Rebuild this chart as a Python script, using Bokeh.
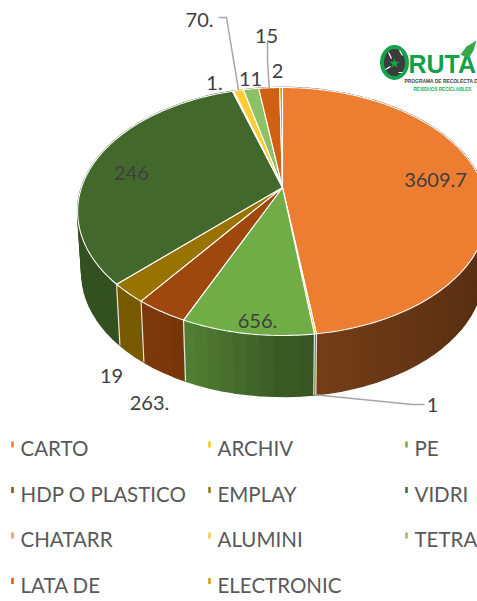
import numpy as np
from bokeh.plotting import figure
from bokeh.models import Range1d
from bokeh.core.properties import value
from bokeh.embed import file_html
from bokeh.resources import INLINE

categories = ["CARTO", "ARCHIV", "PE", "HDP O PLASTICO", "EMPLAY", "VIDRI",
              "CHATARR", "ALUMINI", "TETRA", "LATA DE", "ELECTRONIC"]
values = [3609.7, 10, 656, 263, 190, 2460, 10, 70, 110, 150, 20]
point_labels = ["3609.7", "1", "656.", "263.", "19", "246", "1.", "70.", "11", "15", "2"]
colors = ["#ED7D31", "#FFC000", "#70AD47", "#9E480E", "#997300", "#43682B",
          "#F1975A", "#FFCD33", "#8CC168", "#D26012", "#D29A00"]

# layout (screen pixels), not data
CX, CY = 282.0, 187.0
A, B, C = 0.1935, 119.35, 201.0
DEPTH, SHRINK = 61.0, 0.98
FONT = "Lato"
GREY = "#595959"
DARK = "#404040"
label_pos = [(435, 179), (432, 404), (257, 320), (149, 402), (111, 375), (131, 172),
             (214, 82), (199, 19), (250, 78), (266, 35), (277, 70)]
legend_x = [20, 217, 414]
legend_y = [447.5, 493, 538.5, 584]


def project(theta):
    u, v = np.sin(theta), np.cos(theta)
    d = 1 + A * v
    return CX + C * u / d, CY - B * v / d


def project_low(theta):
    x, y = project(theta)
    return CX + (x - CX) * SHRINK, y + DEPTH


def shade(hexcol, f):
    r, g, b = (int(hexcol[i:i + 2], 16) for i in (1, 3, 5))
    return "#%02x%02x%02x" % (int(r * f), int(g * f), int(b * f))


vals = np.array(values, dtype=float)
edges = np.concatenate([[0.0], np.cumsum(vals) / vals.sum()]) * 2 * np.pi

p = figure(width=477, height=601, output_backend="svg", toolbar_location=None,
           x_range=Range1d(0, 477), y_range=Range1d(601, 0), min_border=0,
           outline_line_color=None, background_fill_color="white")
p.axis.visible = False
p.grid.visible = False

# wall strips, back to front
strips = []
for i, col in enumerate(colors):
    n = max(1, int(np.degrees(edges[i + 1] - edges[i]) / 3.0))
    ts = np.linspace(edges[i], edges[i + 1], n + 1)
    for a, b in zip(ts[:-1], ts[1:]):
        m = (a + b) / 2
        f = np.interp(np.sin(m), [-1, -0.5, -0.4, 0, 0.1, 1], [0.78, 0.78, 0.74, 0.52, 0.5, 0.36])
        xa, ya = project(np.array([a, b]))
        xb, yb = project_low(np.array([b, a]))
        strips.append((np.cos(m), list(xa) + list(xb), list(ya) + list(yb), shade(col, f)))
strips.sort(key=lambda s: -s[0])
p.patches([s[1] for s in strips], [s[2] for s in strips], fill_color=[s[3] for s in strips],
          line_color=[s[3] for s in strips], line_width=1.5)

# white wall separators on the front
bx, by = [], []
for e in edges[1:-1]:
    if np.radians(100) < e < np.radians(262):
        x0, y0 = project(e)
        x1, y1 = project_low(e)
        bx.append([x0, x1]); by.append([y0, y1])
p.multi_line(bx, by, line_color="#e6e6e0", line_width=1.2)

# top slices
xs, ys = [], []
for i in range(len(vals)):
    ts = np.linspace(edges[i], edges[i + 1], max(3, int(np.degrees(edges[i + 1] - edges[i])) + 2))
    x, y = project(ts)
    xs.append([CX] + list(x))
    ys.append([CY] + list(y))
p.patches(xs, ys, fill_color=colors, line_color="white", line_width=1.1)

# leader lines
mid = (edges[:-1] + edges[1:]) / 2
def leader(i, low, lx, ly):
    x0, y0 = project_low(mid[i]) if low else project(mid[i])
    p.line(list(lx) + [x0], list(ly) + [y0], line_color="#A6A6A6", line_width=1.5)
leader(1, True, [424, 412], [404, 404])
leader(7, False, [218, 226], [17, 17])
leader(9, False, [267, 267], [40, 60])

# point labels
p.text([q[0] for q in label_pos], [q[1] for q in label_pos], text=point_labels,
       text_font=value(FONT), text_font_size="20px", text_color=DARK,
       text_align="center", text_baseline="middle")

# legend
lx = [legend_x[i % 3] for i in range(len(categories))]
ly = [legend_y[i // 3] for i in range(len(categories))]
p.text(lx, ly, text=categories, text_font=value(FONT), text_font_size="20.5px",
       text_color=GREY, text_align="left", text_baseline="middle")
p.rect([x - 8 for x in lx], [y - 3.5 for y in ly], width=2.5, height=6,
       fill_color=colors, line_color=None)

# logo
p.ellipse([394], [62], width=29, height=35, fill_color="#14a24a", line_color=None)
p.ellipse([394], [62], width=21, height=27, fill_color="#3b3b3b", line_color=None)
p.scatter([394], [63], marker="star", size=11, fill_color="#14a24a", line_color=None)
p.segment([388, 399, 385, 402], [52, 50, 69, 72], [391, 402, 390, 398], [58, 55, 66, 72],
          line_color="white", line_width=1.2)
p.text([408], [63], text=["RUTA"], text_font=value("Liberation Sans"), text_font_style="bold",
       text_font_size="25px", text_color="#12a04a", text_align="left", text_baseline="middle")
p.patch([460, 466, 476, 473, 468], [54, 46, 40, 50, 58], fill_color="#35a84a", line_color=None)
p.text([404], [81], text=["PROGRAMA DE RECOLECTA D"], text_font=value("Liberation Sans"),
       text_font_style="bold", text_font_size="4.9px", text_color="#404040",
       text_align="left", text_baseline="middle")
p.text([413], [89], text=["RESIDUOS RECICLABLES"], text_font=value("Liberation Sans"),
       text_font_style="bold", text_font_size="4.6px", text_color="#22b04f",
       text_align="left", text_baseline="middle")

open("out.html", "w").write(file_html(p, INLINE))
